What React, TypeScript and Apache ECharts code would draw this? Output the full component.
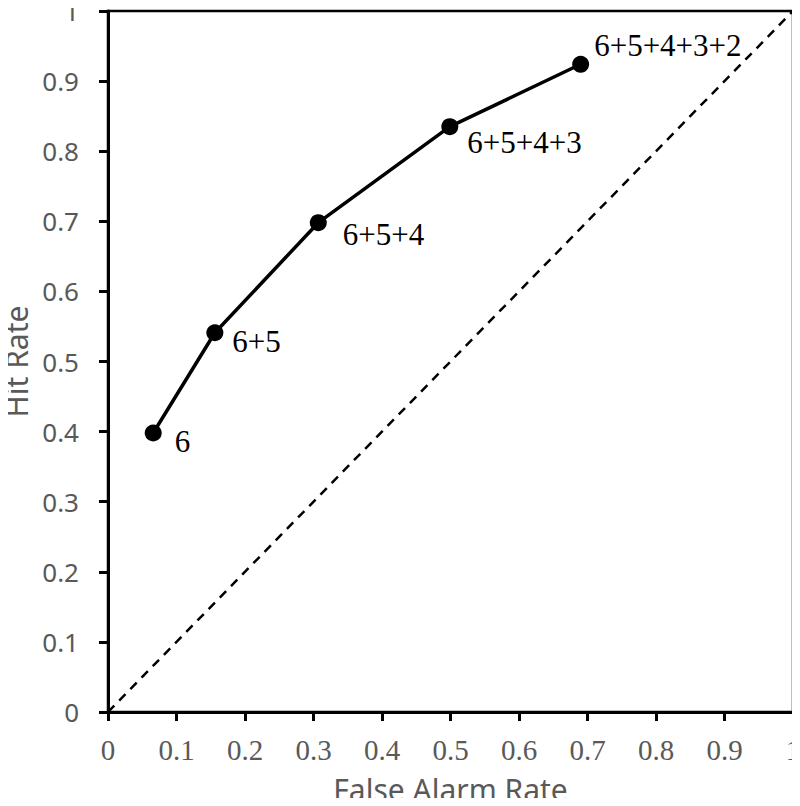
import React, { useEffect, useRef } from "react";
import * as echarts from "echarts";

const falseAlarm = [0.066, 0.156, 0.307, 0.499, 0.69];
const hitRate = [0.398, 0.541, 0.698, 0.835, 0.924];
const pointLabels = ["6", "6+5", "6+5+4", "6+5+4+3", "6+5+4+3+2"];
const labelOffsets: [number, number][] = [
  [6, 8],
  [2, 9],
  [9, 12],
  [2, 16],
  [-2, -19],
];
const chanceLine = [
  [0, 0],
  [1, 1],
];

export default function App() {
  const ref = useRef<HTMLDivElement>(null);
  useEffect(() => {
    if (!ref.current) return;
    const chart = echarts.init(ref.current, undefined, { renderer: "svg" });
    const gray = "#595959";
    chart.setOption({
      animation: false,
      grid: {
        left: 108,
        right: 7,
        top: 11,
        bottom: 94,
        outerBoundsMode: "none",
        containLabel: false,
        show: true,
        borderColor: "#000",
        borderWidth: 2.5,
      },
      xAxis: {
        type: "value",
        min: 0,
        max: 1,
        interval: 0.1,
        name: "False Alarm Rate",
        nameLocation: "middle",
        nameGap: 62,
        nameTextStyle: { color: gray, fontFamily: "Noto Sans", fontSize: 30, lineHeight: 30 },
        axisLine: { show: true, lineStyle: { color: "#000", width: 3 } },
        axisTick: { show: true, length: 9, lineStyle: { color: "#000", width: 3 } },
        splitLine: { show: false },
        axisLabel: {
          color: gray,
          fontFamily: "Liberation Serif",
          fontSize: 29,
          margin: 23,
          formatter: (v: number) => String(Math.round(v * 10) / 10),
        },
      },
      yAxis: {
        type: "value",
        min: 0,
        max: 1,
        interval: 0.1,
        name: "Hit Rate",
        nameLocation: "middle",
        nameGap: 77,
        nameRotate: 90,
        nameTextStyle: { color: gray, fontFamily: "Noto Sans", fontSize: 30, lineHeight: 30 },
        axisLine: { show: true, lineStyle: { color: "#000", width: 3 } },
        axisTick: { show: true, length: 9, lineStyle: { color: "#000", width: 3 } },
        splitLine: { show: false },
        axisLabel: {
          color: gray,
          fontFamily: "Noto Sans",
          fontSize: 26,
          lineHeight: 20,
          margin: 29,
          formatter: (v: number) => String(Math.round(v * 10) / 10),
        },
      },
      series: [
        {
          type: "line",
          data: chanceLine,
          symbol: "none",
          lineStyle: { color: "#000", width: 2.5, type: [9, 7] },
          silent: true,
          z: 1,
        },
        {
          type: "line",
          data: falseAlarm.map((x, i) => ({
            value: [x, hitRate[i]],
            label: { offset: labelOffsets[i] },
          })),
          symbol: "circle",
          symbolSize: 17,
          itemStyle: { color: "#000" },
          lineStyle: { color: "#000", width: 3.5 },
          label: {
            show: true,
            position: "right",
            distance: 7,
            color: "#000",
            fontFamily: "Liberation Serif",
            fontSize: 31,
            formatter: (p: any) => pointLabels[p.dataIndex],
          },
          z: 3,
        },
      ],
    });
    return () => chart.dispose();
  }, []);
  return <div ref={ref} style={{ width: 800, height: 806, margin: -8 }} />;
}
